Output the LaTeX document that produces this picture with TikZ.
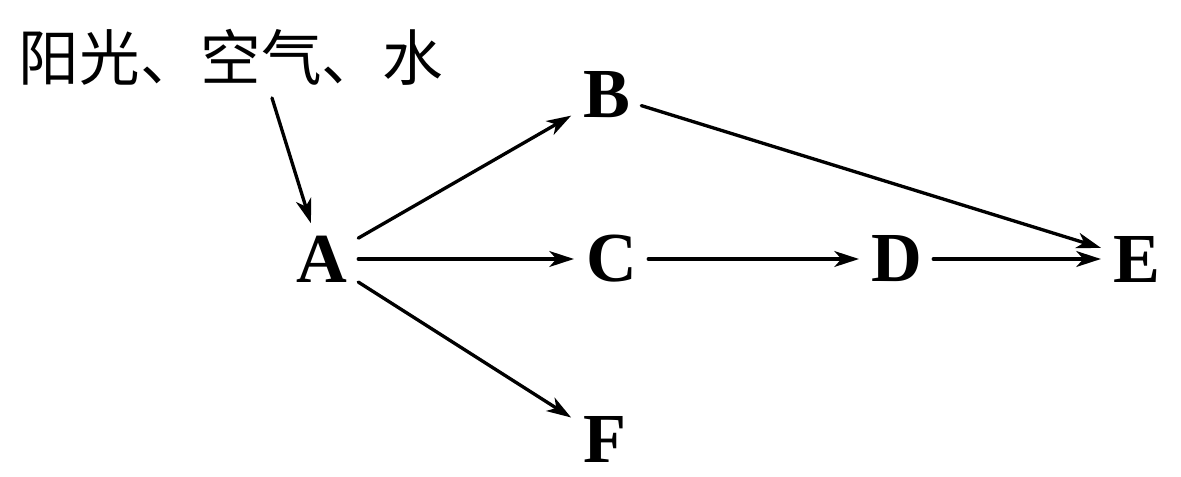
\documentclass[tikz,border=0pt]{standalone}
\usepackage{fontspec}
\setmainfont{Liberation Serif}
\newfontfamily\cjk{Noto Sans CJK SC}
\usetikzlibrary{arrows.meta}

\begin{document}
\begin{tikzpicture}[line cap=round,line join=round,x=0.02cm,y=-0.02cm,
    lbl/.style={inner sep=6pt,font=\fontsize{40}{44}\selectfont\bfseries},
    arr/.style={line width=1.9pt,-{Stealth[length=14pt,width=9pt,inset=4pt]},shorten >=1pt}]
        \useasboundingbox (0,0) rectangle (1181,477);
        \node[inner sep=0pt,font=\cjk\fontsize{34.5}{40}\selectfont] (src) at (231,57) {阳光、空气、水};
        \node[lbl] (A) at (322,259) {A};
        \node[lbl] (B) at (607,95) {B};
        \node[lbl] (C) at (612,259) {C};
        \node[lbl] (D) at (897,259) {D};
        \node[lbl] (E) at (1137,259) {E};
        \node[lbl] (F) at (605,439) {F};
        \draw [arr] ([xshift=0.82cm,yshift=-0.25cm]src.south) -- (A);
        \draw [arr] (A) -- (B);
        \draw [arr] (A) -- (C);
        \draw [arr] (A) -- (F);
        \draw [arr] (B) -- (E);
        \draw [arr] (C) -- (D);
        \draw [arr] (D) -- (E);
    \end{tikzpicture}
\end{document}
